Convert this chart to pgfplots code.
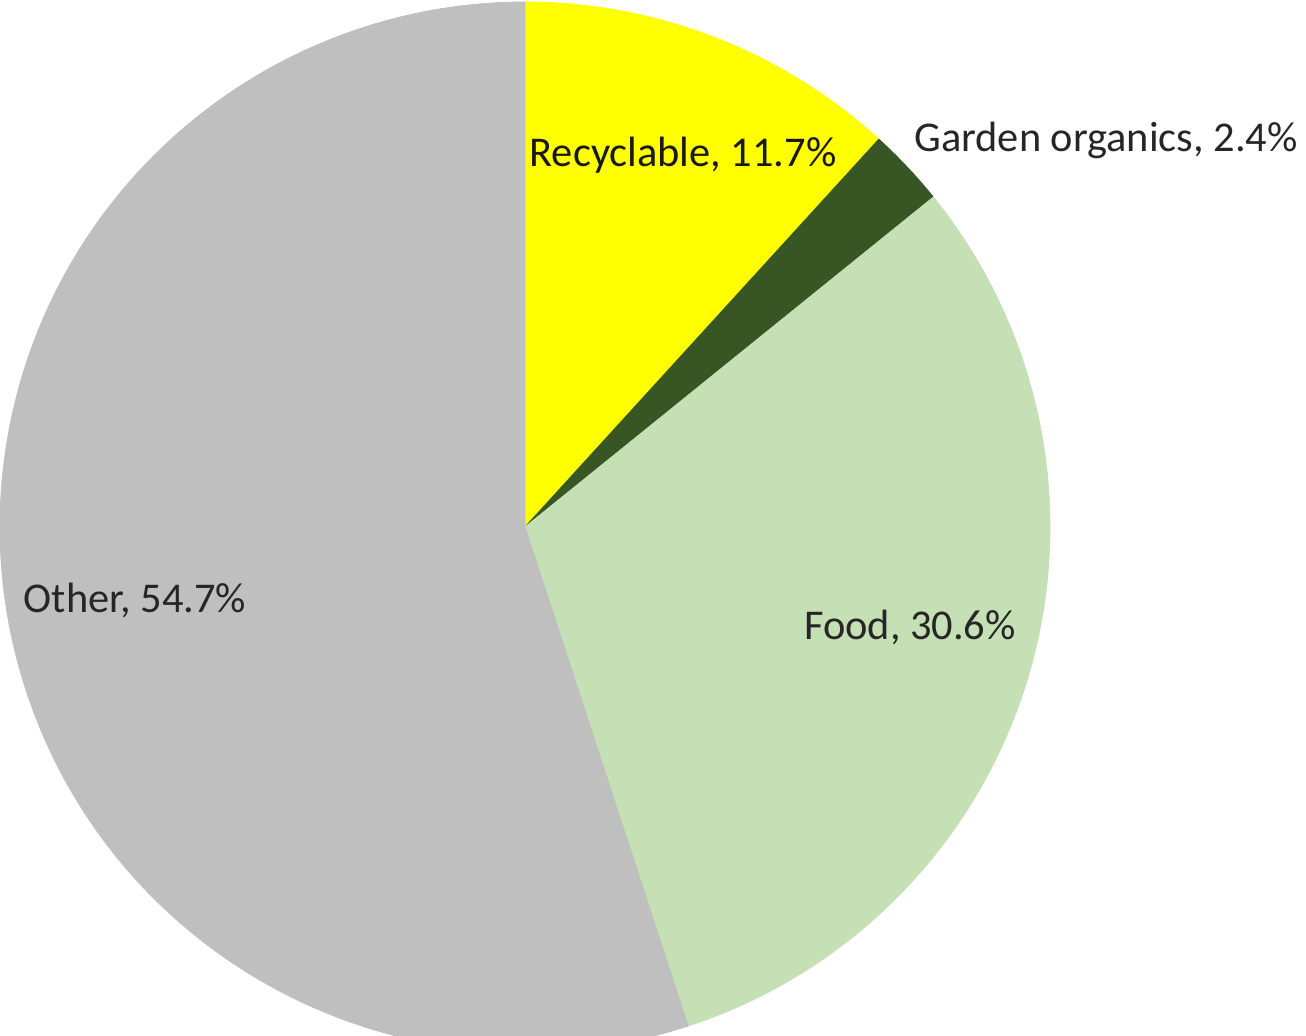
\documentclass[border=0pt]{standalone}
\usepackage{pgfplots}
\usepackage{pgfplotstable}
\pgfplotsset{compat=1.18}
\usepackage{fontspec}
\setmainfont{Carlito}
\definecolor{cRec}{HTML}{FFFF00}
\definecolor{cGar}{HTML}{375623}
\definecolor{cFood}{HTML}{C5E0B4}
\definecolor{cOther}{HTML}{BFBFBF}

\pgfplotstableread{
label value
Recyclable 11.7
Garden 2.4
Food 30.6
Other 54.7
}\piedata

\pgfplotstablegetelem{0}{value}\of\piedata \let\vA\pgfplotsretval
\pgfplotstablegetelem{1}{value}\of\piedata \let\vB\pgfplotsretval
\pgfplotstablegetelem{2}{value}\of\piedata \let\vC\pgfplotsretval
\pgfplotstablegetelem{3}{value}\of\piedata \let\vD\pgfplotsretval
\pgfmathsetmacro\tot{\vA+\vB+\vC+\vD}
\pgfmathsetmacro\aA{90}
\pgfmathsetmacro\aB{90-\vA/\tot*360}
\pgfmathsetmacro\aC{\aB-\vB/\tot*360}
\pgfmathsetmacro\aD{\aC-\vC/\tot*360}
\pgfmathsetmacro\aE{\aD-\vD/\tot*360}

\begin{document}
\begin{tikzpicture}
\useasboundingbox (0,0) rectangle (653pt,518pt);
\begin{axis}[
  at={(0,0)}, anchor=south west,
  scale only axis, width=653pt, height=518pt,
  xmin=0, xmax=1306, ymin=0, ymax=1036,
  hide axis, clip=true,
]
\fill[cRec, draw=cRec, line width=0.4pt] (axis cs:525,509) -- ++(\aA:262.5pt) arc[start angle=\aA, end angle=\aB, radius=262.5pt] -- cycle;
\fill[cGar, draw=cGar, line width=0.4pt] (axis cs:525,509) -- ++(\aB:262.5pt) arc[start angle=\aB, end angle=\aC, radius=262.5pt] -- cycle;
\fill[cFood, draw=cFood, line width=0.4pt] (axis cs:525,509) -- ++(\aC:262.5pt) arc[start angle=\aC, end angle=\aD, radius=262.5pt] -- cycle;
\fill[cOther, draw=cOther, line width=0.4pt] (axis cs:525,509) -- ++(\aD:262.5pt) arc[start angle=\aD, end angle=\aE, radius=262.5pt] -- cycle;
\node[font=\fontsize{21.2pt}{25pt}\selectfont, text=black!90] at (axis cs:683,881) {Recyclable, 11.7\%};
\node[font=\fontsize{21.2pt}{25pt}\selectfont, text=black!85] at (axis cs:1106,896) {Garden organics, 2.4\%};
\node[font=\fontsize{21.2pt}{25pt}\selectfont, text=black!85] at (axis cs:910,408) {Food, 30.6\%};
\node[font=\fontsize{21.2pt}{25pt}\selectfont, text=black!85] at (axis cs:135,435) {Other, 54.7\%};
\end{axis}
\end{tikzpicture}
\end{document}
